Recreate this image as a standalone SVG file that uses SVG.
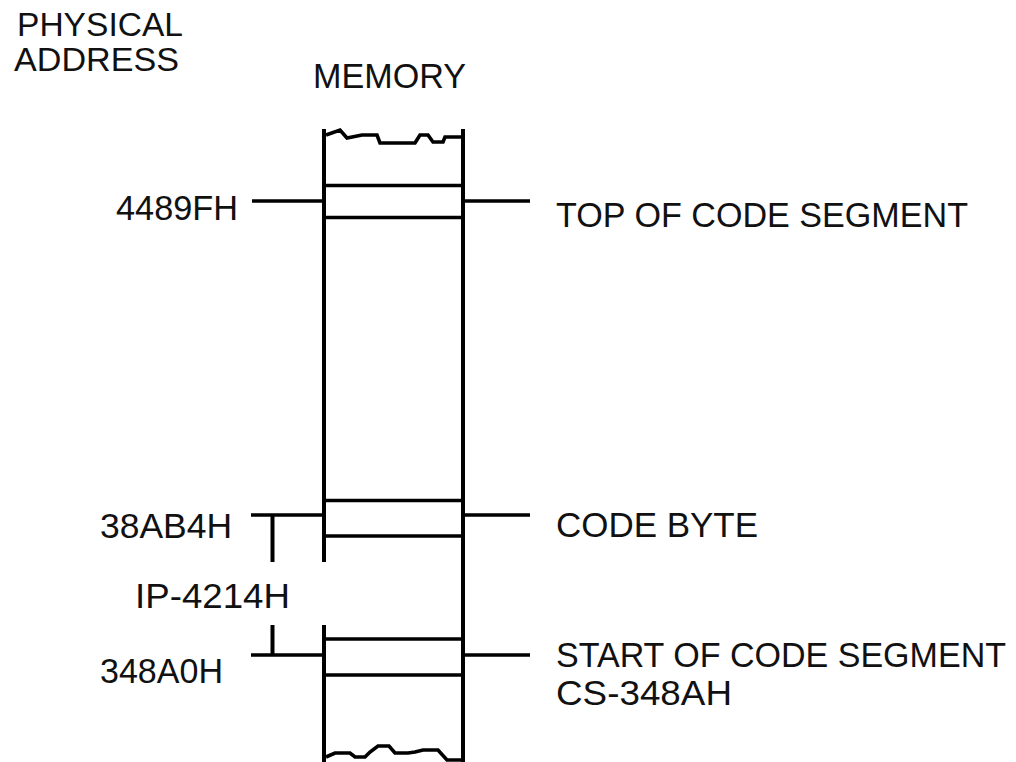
<svg xmlns="http://www.w3.org/2000/svg" width="1016" height="762" viewBox="0 0 1016 762">
<style>
.t{font-family:"Liberation Sans",Arial,sans-serif;font-size:35px;fill:#111}
.h{font-size:33px}
.ln{stroke:#000;stroke-width:3.6;fill:none;stroke-linecap:butt}
.v{stroke:#000;stroke-width:4;fill:none}
</style>
<rect width="1016" height="762" fill="#fff"/>
<g id="header">
<text class="t h" x="17" y="36" textLength="166" lengthAdjust="spacingAndGlyphs">PHYSICAL</text>
<text class="t h" x="14" y="71" textLength="165" lengthAdjust="spacingAndGlyphs">ADDRESS</text>
<text class="t" x="313" y="88" textLength="153" lengthAdjust="spacingAndGlyphs">MEMORY</text>
</g>
<g id="memory">
<path class="v" d="M324,129 V562 M324,625 V762 M463,129 V762"/>
<path class="ln" d="M326,135 L340,130 L347,138 L362,135 L377,135 L380,143 L415,143 L420,135 L428,135 L433,142 L443,142 L445,137 L462,137"/>
<path class="ln" d="M326,757 L335,753 L350,753 L355,757 L365,757 L370,752 L378,746 L389,746 L395,753 L408,753 L415,752 L423,750 L438,750 L447,760 L461,760"/>
</g>
<g id="top-of-code-segment">
<path class="ln" d="M324,185.5 H463 M324,217.5 H463"/>
<text class="t" x="116" y="220" textLength="122" lengthAdjust="spacingAndGlyphs">4489FH</text>
<text class="t" x="556" y="227" textLength="412" lengthAdjust="spacingAndGlyphs">TOP OF CODE SEGMENT</text>
</g>
<g id="code-byte">
<path class="ln" d="M324,500.5 H463 M324,536 H463"/>
<text class="t" x="100" y="538" textLength="132" lengthAdjust="spacingAndGlyphs">38AB4H</text>
<text class="t" x="556" y="537" textLength="202" lengthAdjust="spacingAndGlyphs">CODE BYTE</text>
</g>
<g id="offset">
<text class="t" x="135" y="608" textLength="155" lengthAdjust="spacingAndGlyphs">IP-4214H</text>
</g>
<g id="start-of-code-segment">
<path class="ln" d="M324,639 H463 M324,675 H463"/>
<text class="t" x="100" y="683" textLength="123" lengthAdjust="spacingAndGlyphs">348A0H</text>
<text class="t" x="556" y="667" textLength="450" lengthAdjust="spacingAndGlyphs">START OF CODE SEGMENT</text>
<text class="t" x="556" y="705" textLength="176" lengthAdjust="spacingAndGlyphs">CS-348AH</text>
</g>
<g id="connectors">
<path class="ln" d="M252,201 H324 M463,201 H530"/>
<path class="ln" d="M251,515 H324 M463,515 H530"/>
<path class="ln" d="M251,655 H324 M463,655 H530"/>
<path class="v" d="M272.5,515 V562 M272.5,625 V655"/>
</g>
</svg>
